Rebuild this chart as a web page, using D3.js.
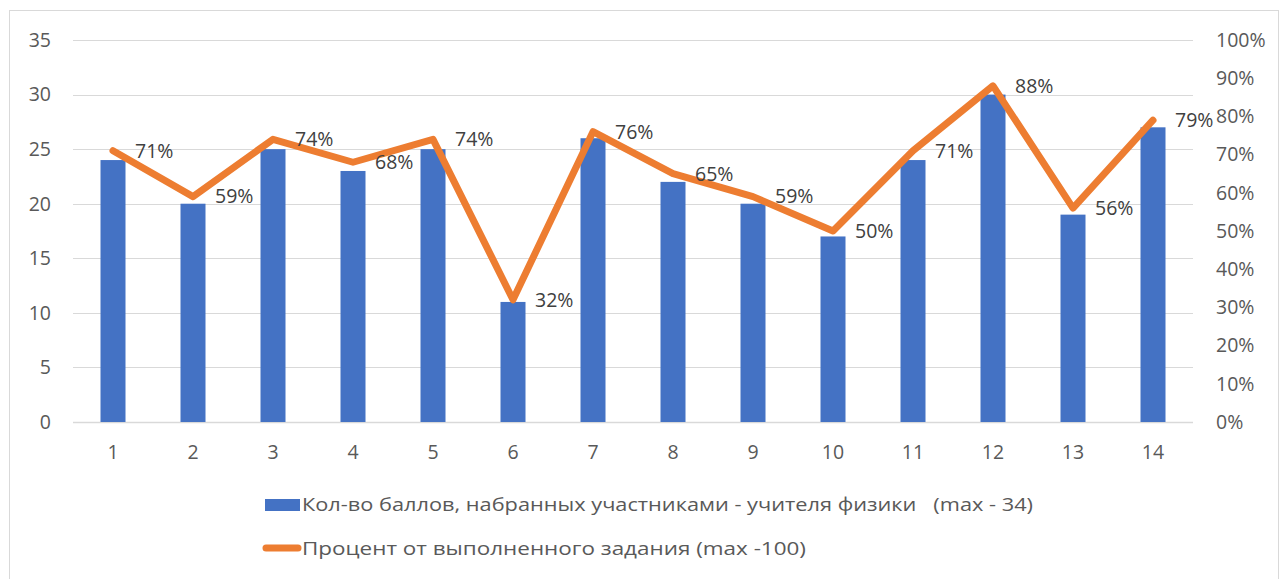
<!DOCTYPE html>
<html>
<head>
<meta charset="utf-8">
<script src="https://cdn.jsdelivr.net/npm/d3@7"></script>
<style>
  body { margin: 0; background: #fff; }
  text { font-family: "Open Sans", "Liberation Sans", sans-serif; fill: #595959; }
</style>
</head>
<body>
<div id="chart"></div>
<script>
const categories = ["1","2","3","4","5","6","7","8","9","10","11","12","13","14"];
const scores = [24, 20, 25, 23, 25, 11, 26, 22, 20, 17, 24, 30, 19, 27];
const percents = [71, 59, 74, 68, 74, 32, 76, 65, 59, 50, 71, 88, 56, 79];
const leftTicks = [0, 5, 10, 15, 20, 25, 30, 35];
const rightTicks = [0, 10, 20, 30, 40, 50, 60, 70, 80, 90, 100];
const barLabel = "Кол-во баллов, набранных участниками - учителя физики   (max - 34)";
const lineLabel = "Процент от выполненного задания (max -100)";

const W = 1287, H = 579;
const plot = {left: 73, right: 1193, top: 40, bottom: 422};

const svg = d3.select("#chart").append("svg")
  .attr("width", W)
  .attr("height", H);

// chart frame
svg.append("rect")
  .attr("x", 9.5).attr("y", 10.5)
  .attr("width", 1269).attr("height", 600)
  .attr("fill", "none")
  .attr("stroke", "#d9d9d9");

const x = d3.scaleBand()
  .domain(categories)
  .range([plot.left, plot.right]);

const yLeft = d3.scaleLinear()
  .domain([0, 35])
  .range([plot.bottom, plot.top]);

const yRight = d3.scaleLinear()
  .domain([0, 100])
  .range([plot.bottom, plot.top]);

// gridlines
svg.append("g")
  .selectAll("line")
  .data(leftTicks)
  .join("line")
    .attr("x1", plot.left)
    .attr("x2", plot.right)
    .attr("y1", d => Math.round(yLeft(d)) + 0.5)
    .attr("y2", d => Math.round(yLeft(d)) + 0.5)
    .attr("stroke", "#d9d9d9")
    .attr("stroke-width", d => d === 0 ? 1.5 : 1);

// left axis labels
svg.append("g")
  .selectAll("text")
  .data(leftTicks)
  .join("text")
    .attr("x", 51)
    .attr("y", d => yLeft(d))
    .attr("dy", "0.35em")
    .attr("text-anchor", "end")
    .attr("font-size", 19.5)
    .text(d => d);

// right axis labels
svg.append("g")
  .selectAll("text")
  .data(rightTicks)
  .join("text")
    .attr("x", 1216)
    .attr("y", d => yRight(d))
    .attr("dy", "0.35em")
    .attr("font-size", 19.5)
    .text(d => d + "%");

// x labels
svg.append("g")
  .selectAll("text")
  .data(categories)
  .join("text")
    .attr("x", d => x(d) + x.bandwidth() / 2)
    .attr("y", 452)
    .attr("dy", "0.35em")
    .attr("text-anchor", "middle")
    .attr("font-size", 19.5)
    .text(d => d);

// bars
const barW = 25;
svg.append("g")
  .selectAll("rect")
  .data(scores)
  .join("rect")
    .attr("x", (d, i) => x(categories[i]) + x.bandwidth() / 2 - barW / 2)
    .attr("y", d => yLeft(d))
    .attr("width", barW)
    .attr("height", d => yLeft(0) - yLeft(d))
    .attr("fill", "#4472c4");

// line
let line = d3.line()
  .x((d, i) => x(categories[i]) + x.bandwidth() / 2)
  .y(d => yRight(d));

svg.append("path")
  .datum(percents)
  .attr("d", line)
  .attr("fill", "none")
  .attr("stroke", "#ed7d31")
  .attr("stroke-width", 7)
  .attr("stroke-linejoin", "round")
  .attr("stroke-linecap", "round");

// point labels
svg.append("g")
  .selectAll("text")
  .data(percents)
  .join("text")
    .attr("x", (d, i) => x(categories[i]) + x.bandwidth() / 2 + 22)
    .attr("y", d => yRight(d))
    .attr("dy", "0.35em")
    .attr("font-size", 19.5)
    .style("fill", "#404040")
    .text(d => d + "%");

// legend
const legend = svg.append("g");
legend.append("rect")
  .attr("x", 265).attr("y", 499)
  .attr("width", 35).attr("height", 12)
  .attr("fill", "#4472c4");
legend.append("text")
  .attr("x", 302).attr("y", 505)
  .attr("dy", "0.35em")
  .attr("font-size", 18)
  .attr("textLength", 731)
  .attr("lengthAdjust", "spacingAndGlyphs")
  .style("white-space", "pre")
  .text(barLabel);

legend.append("line")
  .attr("x1", 266).attr("x2", 298)
  .attr("y1", 548).attr("y2", 548)
  .attr("stroke", "#ed7d31")
  .attr("stroke-width", 7)
  .attr("stroke-linecap", "round");
legend.append("text")
  .attr("x", 302).attr("y", 549)
  .attr("dy", "0.35em")
  .attr("font-size", 18)
  .attr("textLength", 504)
  .attr("lengthAdjust", "spacingAndGlyphs")
  .text(lineLabel);
</script>
</body>
</html>
